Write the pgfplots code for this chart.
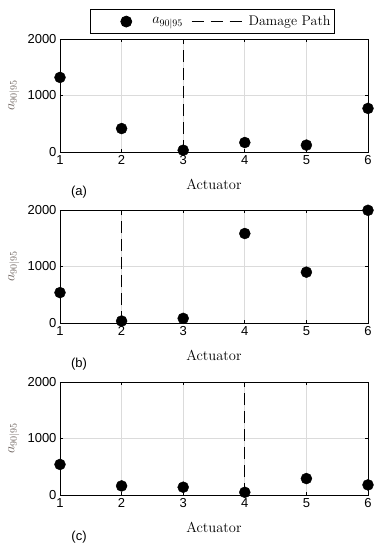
\documentclass[border=0pt]{standalone}
\usepackage{pgfplots}
\pgfplotsset{compat=1.18}
\usepackage{fontspec}
\setsansfont{Liberation Sans}

\definecolor{gridgray}{gray}{0.86}
\definecolor{labgray}{RGB}{110,100,95}

\pgfplotsset{
  actaxis/.style={
    scale only axis,
    width=308pt, height=113pt,
    xmin=1, xmax=6, ymin=0, ymax=2000,
    xtick={1,...,6}, ytick={0,1000,2000},
    grid=major,
    major grid style={gridgray, line width=0.6pt},
    axis line style={line width=0.8pt},
    tick style={black, line width=0.6pt},
    major tick length=3pt,
    tick align=inside,
    clip=false,
    ticklabel style={font=\sffamily\fontsize{13}{15}\selectfont},
    /pgf/number format/assume math mode=true,
    /pgf/number format/1000 sep={},
    xlabel={Actuator},
    every axis x label/.style={at={(0.5,0)}, anchor=center, yshift=-32pt},
    xlabel style={font=\fontsize{14.5}{17}\selectfont},
    ylabel={$a_{90|95}$},
    every axis y label/.style={at={(-0.15,0.5)}, anchor=center, rotate=90},
    ylabel style={font=\fontsize{14}{16}\selectfont, text=labgray},
  },
  pts/.style={only marks, mark=*, mark size=5.5pt, black},
  dmg/.style={black, line width=1.3pt, dash pattern=on 12pt off 6pt},
  ptleg/.style={legend image code/.code={%
    \path[draw=none] (0pt,0pt) -- (58pt,0pt);
    \fill[black] (34pt,0pt) circle (5.5pt);}},
  dmgleg/.style={legend image code/.code={%
    \path[draw=none] (0pt,0pt) -- (55pt,0pt);
    \draw[black, line width=1.3pt, dash pattern=on 12pt off 7pt] (0pt,0pt) -- (50pt,0pt);}},
}

\begin{document}
\begin{tikzpicture}
\useasboundingbox (0pt,0pt) rectangle (384pt,-550pt);

% (a)
\begin{axis}[actaxis, at={(60pt,-152pt)}, anchor=south west,
  legend columns=2,
  legend style={at={(0.097,1.265)}, anchor=north west,
    draw=black, line width=0.8pt, font=\fontsize{14}{16}\selectfont,
    /tikz/every even column/.append style={column sep=6pt},
    inner xsep=2pt, inner ysep=4.5pt},
]
\addplot[pts, ptleg]
  coordinates {(1,1320) (2,415) (3,32) (4,168) (5,122) (6,772)};
\addplot[dmg, dmgleg] coordinates {(3,0) (3,2000)};
\legend{$a_{90|95}$, Damage Path\hspace{3pt}}
\end{axis}
\node[font=\sffamily\fontsize{13}{15}\selectfont] at (79pt,-192pt) {(a)};

% (b)
\begin{axis}[actaxis, at={(60pt,-323pt)}, anchor=south west]
\addplot[pts] coordinates {(1,538) (2,35) (3,82) (4,1584) (5,900) (6,1995)};
\addplot[dmg] coordinates {(2,0) (2,2000)};
\end{axis}
\node[font=\sffamily\fontsize{13}{15}\selectfont] at (79pt,-364pt) {(b)};

% (c)
\begin{axis}[actaxis, at={(60pt,-495pt)}, anchor=south west]
\addplot[pts] coordinates {(1,541) (2,161) (3,138) (4,48) (5,291) (6,179)};
\addplot[dmg] coordinates {(4,0) (4,2000)};
\end{axis}
\node[font=\sffamily\fontsize{13}{15}\selectfont] at (79pt,-537pt) {(c)};
\end{tikzpicture}
\end{document}
